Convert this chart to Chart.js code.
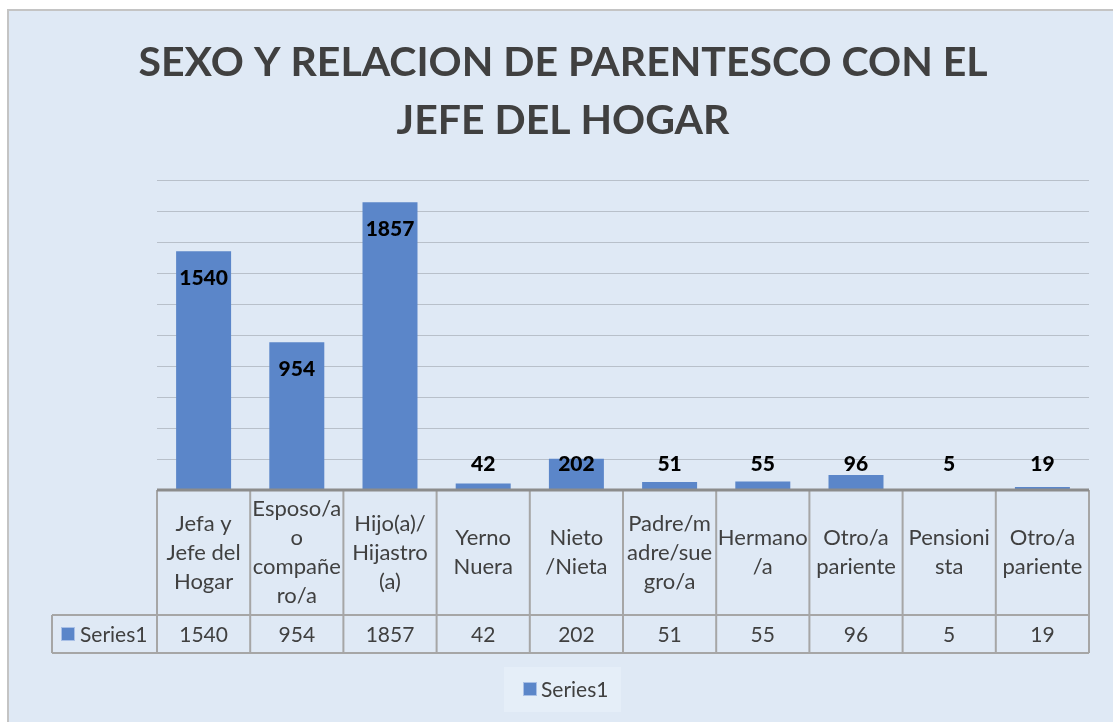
<!DOCTYPE html>
<html>
<head>
<meta charset="utf-8">
<script src="https://cdn.jsdelivr.net/npm/chart.js@4.4.1/dist/chart.umd.min.js"></script>
<style>
  body { margin: 0; background: #fff; }
  #wrap { width: 1113px; height: 722px; }
</style>
</head>
<body>
<div id="wrap"><canvas id="myChart" width="1113" height="722"></canvas></div>
<script>
  // data
  const categories = [
    ['Jefa y', 'Jefe del', 'Hogar'],
    ['Esposo/a', 'o', 'compañe', 'ro/a'],
    ['Hijo(a)/', 'Hijastro', '(a)'],
    ['Yerno', 'Nuera'],
    ['Nieto', '/Nieta'],
    ['Padre/m', 'adre/sue', 'gro/a'],
    ['Hermano', '/a'],
    ['Otro/a', 'pariente'],
    ['Pensioni', 'sta'],
    ['Otro/a', 'pariente']
  ];
  const series1 = [1540, 954, 1857, 42, 202, 51, 55, 96, 5, 19];
  const seriesName = 'Series1';
  const titleLines = ['SEXO Y RELACION DE PARENTESCO CON EL', 'JEFE DEL HOGAR'];

  const FONT = 'Lato, "Open Sans", sans-serif';
  const BAR = '#5b86c9';
  const BG = '#dfe9f5';

  const chartBg = {
    id: 'chartBg',
    beforeDraw(chart) {
      const c = chart.ctx;
      c.save();
      c.fillStyle = '#ffffff';
      c.fillRect(0, 0, chart.width, chart.height);
      c.fillStyle = BG;
      c.fillRect(7, 9, chart.width - 7, chart.height - 9);
      c.strokeStyle = '#c4c4c4';
      c.lineWidth = 2;
      c.beginPath();
      c.moveTo(8, chart.height);
      c.lineTo(8, 10);
      c.lineTo(chart.width, 10);
      c.stroke();
      // title
      c.fillStyle = '#404040';
      c.font = 'bold 41px ' + FONT;
      c.textAlign = 'center';
      c.textBaseline = 'middle';
      c.fillText(titleLines[0], 563, 63);
      c.fillText(titleLines[1], 563, 121);
      c.restore();
    }
  };

  const barLabels = {
    id: 'barLabels',
    afterDatasetsDraw(chart) {
      const c = chart.ctx;
      const meta = chart.getDatasetMeta(0);
      c.save();
      c.font = '900 21px ' + FONT;
      c.fillStyle = '#000';
      c.textAlign = 'center';
      c.textBaseline = 'middle';
      meta.data.forEach((bar, i) => {
        const y = Math.min(bar.y + 27, 464);
        c.fillText(String(series1[i]), bar.x, y);
      });
      c.restore();
    }
  };

  const dataTable = {
    id: 'dataTable',
    afterDraw(chart) {
      const c = chart.ctx;
      const x = chart.scales.x;
      const area = chart.chartArea;
      const top = area.bottom, mid = 615, bottom = 653;
      const n = categories.length;
      const step = (area.right - area.left) / n;
      c.save();
      c.strokeStyle = '#a6a6a6';
      c.lineWidth = 2;
      c.beginPath();
      for (let i = 0; i <= n; i++) {
        const xx = area.left + i * step;
        c.moveTo(xx, top); c.lineTo(xx, bottom);
      }
      c.moveTo(52, mid); c.lineTo(52, bottom);
      c.moveTo(52, mid); c.lineTo(area.right, mid);
      c.moveTo(52, bottom); c.lineTo(area.right, bottom);
      c.stroke();
      c.strokeStyle = '#8c8c8c';
      c.lineWidth = 3;
      c.beginPath();
      c.moveTo(area.left, top); c.lineTo(area.right, top);
      c.stroke();

      c.fillStyle = '#404040';
      c.textAlign = 'center';
      c.textBaseline = 'middle';
      categories.forEach((lines, i) => {
        const cx = x.getPixelForValue(i);
        const lh = 29;
        const y0 = (top + mid) / 2 - (lines.length - 1) * lh / 2;
        c.font = '22px ' + FONT;
        lines.forEach((t, j) => c.fillText(t, cx, y0 + j * lh));
        c.font = '21px ' + FONT;
        c.fillText(String(series1[i]), cx, (mid + bottom) / 2 + 1);
      });
      // series key in the table
      c.fillStyle = BAR;
      c.fillRect(62, 628, 12, 12);
      c.strokeStyle = '#a9c0e6';
      c.lineWidth = 1;
      c.strokeRect(61.5, 627.5, 13, 13);
      c.fillStyle = '#404040';
      c.textAlign = 'left';
      c.font = '21px ' + FONT;
      c.fillText(seriesName, 80, 635);

      // legend
      c.fillStyle = '#e5eef8';
      c.fillRect(504, 667, 117, 45);
      c.fillStyle = BAR;
      c.fillRect(524, 683, 12, 12);
      c.strokeStyle = '#a9c0e6';
      c.strokeRect(523.5, 682.5, 13, 13);
      c.fillStyle = '#404040';
      c.fillText(seriesName, 541, 690);
      c.restore();
    }
  };

  const ctx = document.getElementById('myChart');

  new Chart(ctx, {
    type: 'bar',
    data: {
      labels: categories.map(l => l.join(' ')),
      datasets: [{
        label: seriesName,
        data: series1,
        backgroundColor: BAR,
        borderWidth: 0,
        categoryPercentage: 1,
        barPercentage: 0.59,
      }]
    },
    options: {
      responsive: false,
      animation: false,
      devicePixelRatio: 1,
      layout: {
        padding: { left: 157, right: 24, top: 180, bottom: 232 }
      },
      plugins: {
        legend: { display: false },
        title: { display: false },
        tooltip: { enabled: false }
      },
      scales: {
        x: { display: false },
        y: {
          min: 0,
          max: 2000,
          ticks: { display: false, stepSize: 200 },
          border: { display: false },
          grid: { color: '#b8c0ca', lineWidth: 1, drawTicks: false }
        }
      }
    },
    plugins: [chartBg, barLabels, dataTable]
  });
</script>
</body>
</html>
